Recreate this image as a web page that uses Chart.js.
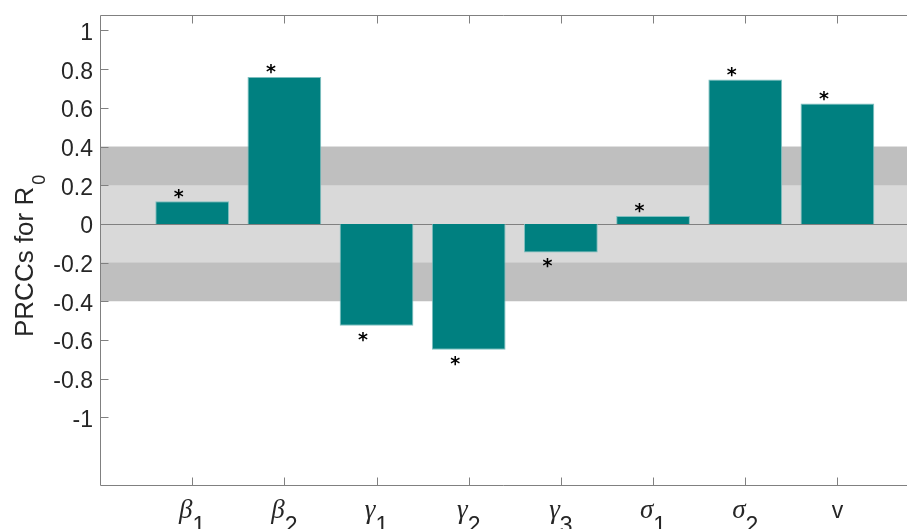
<!DOCTYPE html>
<html>
<head>
<meta charset="utf-8">
<script src="https://cdn.jsdelivr.net/npm/chart.js@4.4.1/dist/chart.umd.min.js"></script>
<style>
  html, body { margin: 0; padding: 0; background: #fff; }
</style>
</head>
<body>
<canvas id="prccChart" width="907" height="529"></canvas>
<script>
// parameters and their PRCC values for R0
var paramSymbols = ['β', 'β', 'γ', 'γ', 'γ', 'σ', 'σ', 'v'];
var paramSubs = ['1', '2', '1', '2', '3', '1', '2', ''];
var prccR0 = [0.117, 0.76, -0.527, -0.651, -0.148, 0.041, 0.746, 0.622];
var significant = [true, true, true, true, true, true, true, true];

// y ticks and shaded bands
var yTicks = [-1, -0.8, -0.6, -0.4, -0.2, 0, 0.2, 0.4, 0.6, 0.8, 1];
var weakBand = [-0.2, 0.2];
var moderateBand = [-0.4, 0.4];

var xPos = paramSymbols.map(function (s, i) { return i + 1; });
var axisColor = '#808080';
var sans = '"Liberation Sans", Arial, Helvetica, sans-serif';

var bandsPlugin = {
	id: 'bands',
	beforeDatasetsDraw: function (chart) {
		var c = chart.ctx, a = chart.chartArea, y = chart.scales.y;
		c.save();
		// outer (moderate) band
		c.fillStyle = '#bfbfbf';
		var t = y.getPixelForValue(moderateBand[1]), b = y.getPixelForValue(moderateBand[0]);
		c.fillRect(a.left, t, a.right - a.left, b - t);
		// inner (weak) band
		c.fillStyle = '#d9d9d9';
		t = y.getPixelForValue(weakBand[1]); b = y.getPixelForValue(weakBand[0]);
		c.fillRect(a.left, t, a.right - a.left, b - t);
		// zero line
		var z = Math.round(y.getPixelForValue(0)) + 0.5;
		c.strokeStyle = axisColor;
		c.lineWidth = 1;
		c.beginPath();
		c.moveTo(a.left, z);
		c.lineTo(a.right, z);
		c.stroke();
		c.restore();
	}
};

var decorPlugin = {
	id: 'decor',
	afterDraw: function (chart) {
		var c = chart.ctx, a = chart.chartArea, x = chart.scales.x, y = chart.scales.y;
		c.save();
		// box lines: left, top, bottom
		var L = Math.round(a.left) + 0.5, T = Math.round(a.top) + 0.5, B = Math.round(a.bottom) + 0.5;
		c.strokeStyle = axisColor;
		c.lineWidth = 1;
		c.beginPath();
		c.moveTo(L, B); c.lineTo(L, T); c.lineTo(a.right, T);
		c.moveTo(L, B); c.lineTo(a.right, B);
		// inward tick marks
		yTicks.forEach(function (v) {
			var py = Math.round(y.getPixelForValue(v)) + 0.5;
			c.moveTo(L, py); c.lineTo(L + 8, py);
		});
		xPos.forEach(function (v) {
			var px = Math.round(x.getPixelForValue(v)) + 0.5;
			c.moveTo(px, B); c.lineTo(px, B - 8);
			c.moveTo(px, T); c.lineTo(px, T + 8);
		});
		c.stroke();

		// significance stars
		c.fillStyle = '#000';
		c.font = 'bold 19px "DejaVu Sans", sans-serif';
		c.textAlign = 'center';
		c.textBaseline = 'alphabetic';
		var m = c.measureText('*');
		var mid = (m.actualBoundingBoxAscent - m.actualBoundingBoxDescent) / 2;
		prccR0.forEach(function (v, i) {
			if (!significant[i]) return;
			var px = x.getPixelForValue(xPos[i]) - 13.5;
			var py = y.getPixelForValue(v) + (v >= 0 ? -7.6 : 10.7);
			c.fillText('*', px, py + mid);
		});

		// x tick labels with subscripts
		c.fillStyle = '#262626';
		c.textAlign = 'left';
		paramSymbols.forEach(function (s, i) {
			var mainFont = paramSubs[i] ? 'italic 27px "Liberation Serif", serif' : '23px ' + sans;
			c.font = mainFont;
			var wm = c.measureText(s).width;
			c.font = '23px ' + sans;
			var ws = paramSubs[i] ? c.measureText(paramSubs[i]).width : 0;
			var start = x.getPixelForValue(xPos[i]) - (wm + ws) / 2;
			c.font = mainFont;
			c.fillText(s, start, 518);
			if (paramSubs[i]) {
				c.font = '23px ' + sans;
				c.fillText(paramSubs[i], start + wm, 533);
			}
		});

		// y axis title with subscript
		c.translate(33, 337);
		c.rotate(-Math.PI / 2);
		c.font = '26px ' + sans;
		c.fillText('PRCCs for R', 0, 0);
		var w = c.measureText('PRCCs for R').width;
		c.font = '18px ' + sans;
		c.fillText('0', w + 2, 12);
		c.restore();
	}
};

var ctx = document.getElementById('prccChart').getContext('2d');
var chart = new Chart(ctx, {
	type: 'bar',
	data: {
		datasets: [{
			data: prccR0.map(function (v, i) { return { x: xPos[i], y: v }; }),
			backgroundColor: '#008080',
			borderColor: '#7fbfbf',
			borderWidth: 1,
			categoryPercentage: 1,
			barPercentage: 0.8
		}]
	},
	options: {
		responsive: false,
		animation: false,
		layout: { padding: { top: 15, right: 0, bottom: 0, left: 0 } },
		plugins: { legend: { display: false }, tooltip: { enabled: false } },
		scales: {
			x: {
				type: 'linear',
				min: 0,
				max: 8.755,
				offset: false,
				grid: { display: false, drawTicks: false },
				border: { display: false },
				ticks: { display: false },
				afterBuildTicks: function (s) { s.ticks = xPos.map(function (v) { return { value: v }; }); },
				afterFit: function (s) { s.height = 44; s.paddingLeft = 0; s.paddingRight = 0; }
			},
			y: {
				min: -1.35,
				max: 1.08,
				grid: { display: false, drawTicks: false },
				border: { display: false },
				ticks: {
					padding: 7,
					labelOffset: 3,
					color: '#262626',
					font: { family: sans, size: 23 },
					callback: function (v) { return String(+v.toFixed(1)); }
				},
				afterBuildTicks: function (s) { s.ticks = yTicks.map(function (v) { return { value: v }; }); },
				afterFit: function (s) { s.width = 100; s.paddingTop = 0; s.paddingBottom = 0; }
			}
		}
	},
	plugins: [bandsPlugin, decorPlugin]
});
</script>
</body>
</html>
